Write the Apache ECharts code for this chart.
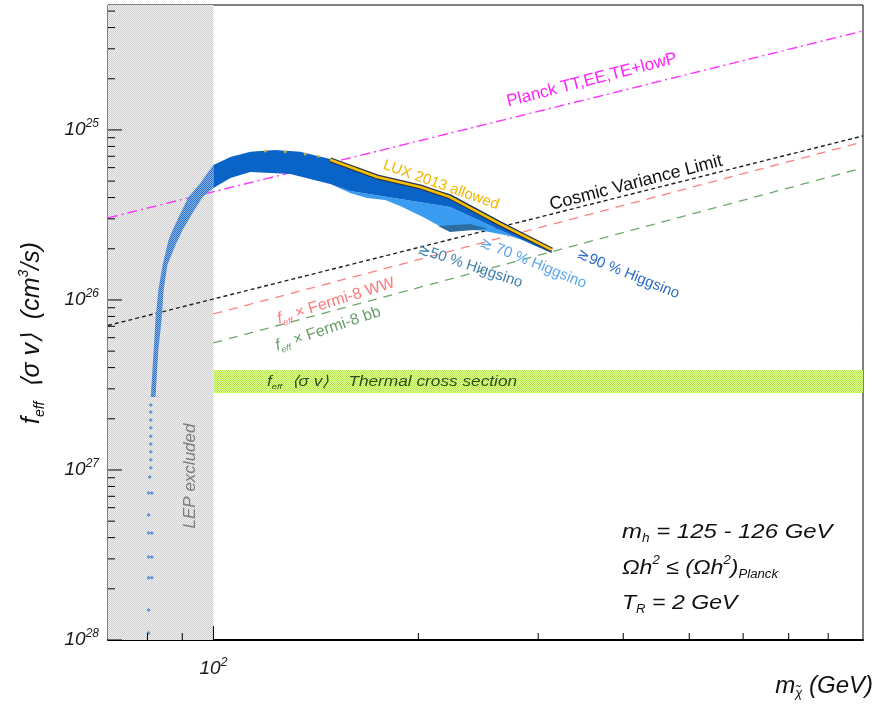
<!DOCTYPE html>
<html>
<head>
<meta charset="utf-8">
<script src="https://cdn.jsdelivr.net/npm/echarts@6/dist/echarts.min.js"></script>
<style>
  html, body { margin: 0; padding: 0; background: #fff; }
  #chart { width: 878px; height: 707px; }
</style>
</head>
<body>
<div id="chart"></div>
<script>
// ---- axes -------------------------------------------------------------
const xRange = [70, 900];                 // neutralino mass, GeV
const yRange = [1e-28, 5.43e-25];         // f_eff <sigma v>, cm^3/s
const xMajorTicks = [100];
const xTickLabels = ['2'];
const xMinorTicks = [80, 90, 200, 300, 400, 500, 600, 700, 800];
const yDecades = [1e-28, 1e-27, 1e-26, 1e-25];
const yTickLabels = ['28', '27', '26', '25'];
const yMinorSteps = [2, 3, 4, 5, 6, 7, 8, 9];

// ---- excluded / reference regions --------------------------------------
const lepExcluded = [70, 100];                    // GeV
const thermalMass = [100, 900];                   // GeV
const thermalRange = [2.84e-27, 3.87e-27];        // cm^3/s

// ---- limit lines [mass, f_eff<sigma v>] --------------------------------
const planckLimit    = [[70, 3.04e-26], [900, 3.82e-25]];
const cosmicVariance = [[70, 7.08e-27], [900, 9.22e-26]];
const fermiWW        = [[100, 8.27e-27], [900, 8.50e-26]];
const fermiBB        = [[100, 5.59e-27], [900, 5.98e-26]];

// ---- scan points: allowed band, edges [mass, f_eff<sigma v>] ------------
const bandUpper = [
  [80.9, 2.69e-27], [81.7, 5.08e-27], [82.2, 7.63e-27], [83.0, 1.15e-26],
  [84.2, 1.61e-26], [85.9, 2.25e-26], [87.1, 2.58e-26], [89.5, 3.25e-26],
  [91.9, 4.03e-26], [95.7, 4.88e-26], [98.0, 5.59e-26], [100, 6.22e-26],
  [105.9, 6.94e-26], [113.3, 7.43e-26], [123.3, 7.63e-26], [134.1, 7.43e-26],
  [148.4, 6.75e-26], [174.0, 5.44e-26], [222.6, 4.20e-26], [263.5, 2.92e-26],
  [314.1, 2.02e-26]
];
const bandLower = [
  [82.2, 2.69e-27], [83.0, 5.08e-27], [83.9, 7.63e-27], [84.5, 1.15e-26],
  [85.6, 1.61e-26], [88.0, 2.11e-26], [90.1, 2.58e-26], [93.2, 3.25e-26],
  [96.4, 4.03e-26], [100, 4.56e-26], [105.9, 5.22e-26], [113.3, 5.66e-26],
  [129.7, 5.51e-26], [148.4, 4.81e-26], [158.8, 4.38e-26], [188.0, 3.93e-26],
  [222.6, 3.52e-26], [263.5, 2.58e-26], [314.1, 1.89e-26]
];
// lower edge of the >~70 % Higgsino spread
const band70Lower = [
  [148.4, 4.81e-26], [158.8, 4.26e-26], [168.2, 3.98e-26], [178.8, 3.87e-26],
  [188.0, 3.57e-26], [203.2, 3.08e-26], [217.4, 2.65e-26], [248.8, 2.55e-26],
  [272.6, 2.38e-26], [301.6, 2.08e-26]
];
// small >~50 % Higgsino patch
const band50 = [[213.8, 2.72e-26], [238.2, 2.80e-26], [253.1, 2.62e-26], [222.6, 2.51e-26]];
// isolated low-mass points
const lowMassPoints = [
  [80.9, 2.41e-27], [80.9, 2.19e-27], [80.9, 1.97e-27], [80.9, 1.77e-27],
  [80.9, 1.58e-27], [80.9, 1.42e-27], [80.9, 1.28e-27], [80.9, 1.15e-27],
  [80.9, 1.03e-27], [80.6, 9.10e-28], [80.3, 7.33e-28], [81.2, 7.33e-28],
  [80.3, 5.44e-28], [80.3, 4.26e-28], [81.2, 4.26e-28], [80.3, 3.08e-28],
  [81.2, 3.08e-28], [80.3, 2.32e-28], [81.2, 2.32e-28], [80.3, 1.50e-28],
  [80.3, 1.10e-28]
];
// LUX 2013 allowed points
const luxLine = [[148.4, 6.67e-26], [174.0, 5.29e-26], [201.3, 4.62e-26],
                 [222.6, 4.03e-26], [263.6, 2.80e-26], [314.1, 1.97e-26]];
const luxDots = [[119.2, 7.52e-26], [127.5, 7.43e-26], [136.4, 7.22e-26], [142.6, 7.03e-26]];

// ---- drawing -----------------------------------------------------------
// tiny cross sections are expressed in units of 1e-28 cm^3/s on the axis
const Y_UNIT = 1e-28;
const toAxis = pts => pts.map(p => [p[0], p[1] / Y_UNIT]);
const F = "'Liberation Sans', Arial, Helvetica, sans-serif";

function checker(c1, c2) {
  const cv = document.createElement('canvas');
  cv.width = 2; cv.height = 2;
  const g = cv.getContext('2d');
  g.fillStyle = c2; g.fillRect(0, 0, 2, 2);
  g.fillStyle = c1; g.fillRect(0, 0, 1, 1); g.fillRect(1, 1, 1, 1);
  return { image: cv, repeat: 'repeat' };
}

function polygonSeries(getPoints, style, z) {
  return {
    type: 'custom', coordinateSystem: 'cartesian2d', silent: true, z: z, clip: true,
    data: [[100, 1]],
    renderItem: function (params, api) {
      const pts = getPoints().map(p => api.coord([p[0], p[1] / Y_UNIT]));
      return { type: 'polygon', shape: { points: pts }, style: style };
    }
  };
}

function lineSeries(pts, color, width, dash, z) {
  return {
    type: 'line', data: toAxis(pts), symbol: 'none', silent: true, z: z,
    lineStyle: { color: color, width: width, type: dash }
  };
}

function isDecade(v, d) { return Math.abs(Math.log10(v) - Math.log10(d)) < 1e-6; }

const supRich = {
  b: { fontSize: 19, fontStyle: 'italic', fontFamily: F, color: '#1a1a1a', lineHeight: 24 },
  s: { fontSize: 12, fontStyle: 'italic', fontFamily: F, color: '#1a1a1a', lineHeight: 12, verticalAlign: 'top' }
};

const option = {
  animation: false,
  grid: { left: 108, right: 15, top: 5, bottom: 67, show: true, borderColor: '#000', borderWidth: 1 },
  xAxis: {
    type: 'log', logBase: 10, min: xRange[0], max: xRange[1],
    axisLine: { show: true, onZero: false, lineStyle: { color: '#000', width: 2 } },
    axisTick: { show: false }, splitLine: { show: false },
    axisLabel: {
      margin: 17, rich: supRich,
      formatter: function (v) {
        const i = xMajorTicks.findIndex(d => isDecade(v, d));
        return i < 0 ? '' : '{b|10}{s|' + xTickLabels[i] + '}';
      }
    }
  },
  yAxis: {
    type: 'log', logBase: 10, min: yRange[0] / Y_UNIT, max: yRange[1] / Y_UNIT,
    axisLine: { show: true, onZero: false, lineStyle: { color: '#000', width: 1 } },
    axisTick: { show: false }, splitLine: { show: false },
    axisLabel: {
      margin: 9, rich: supRich,
      formatter: function (v) {
        const i = yDecades.findIndex(d => isDecade(v * Y_UNIT, d));
        return i < 0 ? '' : '{b|10}{s|' + yTickLabels[i] + '}';
      }
    }
  },
  series: [
    // LEP exclusion
    {
      type: 'custom', coordinateSystem: 'cartesian2d', silent: true, z: 1, clip: true,
      data: [[100, 1]],
      renderItem: function (params, api) {
        const a = api.coord([lepExcluded[0], yRange[1] / Y_UNIT]);
        const b = api.coord([lepExcluded[1], yRange[0] / Y_UNIT]);
        return { type: 'rect', shape: { x: a[0], y: a[1], width: b[0] - a[0], height: b[1] - a[1] },
                 style: { fill: checker('#cfcfcf', '#f1f1f1') } };
      }
    },
    // thermal cross section band
    {
      type: 'custom', coordinateSystem: 'cartesian2d', silent: true, z: 2, clip: true,
      data: [[100, 1]],
      renderItem: function (params, api) {
        const a = api.coord([thermalMass[0], thermalRange[1] / Y_UNIT]);
        const b = api.coord([thermalMass[1], thermalRange[0] / Y_UNIT]);
        return { type: 'rect', shape: { x: a[0], y: a[1], width: b[0] - a[0], height: b[1] - a[1] },
                 style: { fill: checker('#b0ea40', '#e6ffa0') } };
      }
    },
    lineSeries(planckLimit, '#ff33ff', 1.4, [10, 4, 2, 4], 3),
    lineSeries(cosmicVariance, '#222222', 1.4, [4, 3], 3),
    lineSeries(fermiWW, '#ff8080', 1.3, [9, 7], 3),
    lineSeries(fermiBB, '#6ea86e', 1.3, [9, 7], 3),
    // >~70 % Higgsino spread
    polygonSeries(function () {
      const top = bandLower.filter(p => p[0] >= 148.4);
      return top.concat(band70Lower.slice().reverse());
    }, { fill: '#3a9cf0' }, 4),
    polygonSeries(function () { return band50; }, { fill: '#2c6e9e' }, 5),
    // main band, low-mass part (sparser scan)
    polygonSeries(function () {
      return bandUpper.filter(p => p[0] <= 100).concat(bandLower.filter(p => p[0] <= 100).reverse());
    }, { fill: checker('#2a72cc', '#8db3e2') }, 6),
    // main band, m >= 100 GeV
    polygonSeries(function () {
      return bandUpper.filter(p => p[0] >= 100).concat(bandLower.filter(p => p[0] >= 100).reverse());
    }, { fill: '#0a64c8' }, 6),
    {
      type: 'scatter', data: toAxis(lowMassPoints), symbol: 'diamond', symbolSize: 4,
      itemStyle: { color: '#3a80d2' }, silent: true, z: 6
    },
    lineSeries(luxLine, '#2a3550', 5, 'solid', 7),
    lineSeries(luxLine, '#f6c000', 2.6, 'solid', 8),
    {
      type: 'scatter', data: toAxis(luxDots), symbol: 'circle', symbolSize: 3,
      itemStyle: { color: '#e8c020' }, silent: true, z: 8
    },
    // axis ticks (decades and 2..9 subdivisions)
    {
      type: 'custom', coordinateSystem: 'cartesian2d', silent: true, z: 10, clip: false,
      data: [[100, 1]],
      renderItem: function (params, api) {
        const kids = [];
        const yMin = yRange[0] / Y_UNIT, yMax = yRange[1] / Y_UNIT;
        const add = (x1, y1, x2, y2) => kids.push({ type: 'line', shape: { x1, y1, x2, y2 },
                                                    style: { stroke: '#000', lineWidth: 1 } });
        xMajorTicks.forEach(v => { const p = api.coord([v, yMin]); add(p[0], p[1], p[0], p[1] - 14); });
        xMinorTicks.forEach(v => { const p = api.coord([v, yMin]); add(p[0], p[1], p[0], p[1] - 7); });
        yDecades.forEach(d => {
          const p = api.coord([xRange[0], d / Y_UNIT]);
          add(p[0], p[1], p[0] + 14, p[1]);
          yMinorSteps.forEach(k => {
            const v = k * d / Y_UNIT;
            if (v <= yMax) { const q = api.coord([xRange[0], v]); add(q[0], q[1], q[0] + 7, q[1]); }
          });
        });
        return { type: 'group', children: kids };
      }
    }
  ],
  graphic: (function () {
    const deg = a => a * Math.PI / 180;
    const sub = (size, color) => ({ fontSize: size, fontStyle: 'italic', fontFamily: F, fill: color, lineHeight: size, verticalAlign: 'bottom' });
    const sup = (size, color) => ({ fontSize: size, fontStyle: 'italic', fontFamily: F, fill: color, lineHeight: size, verticalAlign: 'top' });
    const base = (size, color, lh) => ({ fontSize: size, fontStyle: 'italic', fontFamily: F, fill: color, lineHeight: lh });
    const plain = (size, color) => ({ fontSize: size, fontFamily: F, fill: color });
    function label(x, y, rot, text, style, extra) {
      return Object.assign({ type: 'text', x: x, y: y, rotation: deg(rot), z: 100, silent: true,
        style: Object.assign({ text: text, align: 'center', verticalAlign: 'middle' }, style) }, extra || {});
    }
    return [
      label(592, 80, 14.5, 'Planck TT,EE,TE+lowP', plain(17, '#ff22ff')),
      label(636, 183, 14.5, 'Cosmic Variance Limit', plain(18, '#111111')),
      label(441, 185, -19.5, 'LUX 2013 allowed', plain(15, '#f2b600')),
      label(470, 266, -18.5, '≳50 % Higgsino', plain(15, '#3f7fae')),
      label(533, 263, -22, '≳ 70 % Higgsino', plain(15, '#5aa6ee')),
      label(628, 274, -22, '≳90 % Higgsino', plain(15, '#2b6cc8')),
      label(336, 301, 17.5, '{f|f}{s|eff}{t| × Fermi-8 WW}', {
        fontSize: 16, fontFamily: F, fill: '#ff7878',
        rich: { f: base(16, '#ff7878', 20), s: sub(9, '#ff7878'), t: Object.assign(plain(16, '#ff7878'), { lineHeight: 20 }) }
      }),
      label(328, 329, 18.5, '{f|f}{s|eff}{t| × Fermi-8 bb}', {
        fontSize: 16, fontFamily: F, fill: '#6a9f6a',
        rich: { f: base(16, '#6a9f6a', 20), s: sub(9, '#6a9f6a'), t: Object.assign(plain(16, '#6a9f6a'), { lineHeight: 20 }) }
      }),
      label(267, 382, 0, '{f|f}{s|eff}{t|  ⟨σ v⟩    Thermal cross section}', {
        align: 'left', fontSize: 15, fontFamily: F, fill: '#2f4f12',
        rich: { f: base(15, '#2f4f12', 18), s: sub(8, '#2f4f12'), t: base(15, '#2f4f12', 18) }
      }, { scaleX: 1.15 }),
      label(190, 476, 90, 'LEP excluded', { fontSize: 17, fontStyle: 'italic', fontFamily: F, fill: '#7c7c7c' }),
      // scan assumptions
      label(622, 532, 0, '{t|m}{s|h}{t| = 125 - 126 GeV}', {
        align: 'left', rich: { t: base(21, '#111', 26), s: sub(12, '#111') }
      }, { scaleX: 1.14 }),
      label(622, 568, 0, '{t|Ωh}{p|2}{t| ≤ (Ωh}{p|2}{t|)}{s|Planck}', {
        align: 'left', rich: { t: base(21, '#111', 26), s: sub(12, '#111'), p: sup(12, '#111') }
      }, { scaleX: 1.1 }),
      label(622, 603, 0, '{t|T}{s|R}{t| = 2 GeV}', {
        align: 'left', rich: { t: base(21, '#111', 26), s: sub(12, '#111') }
      }, { scaleX: 1.1 }),
      // axis titles
      label(32, 333, 90, '{t|f}{s|eff}{t|  ⟨σ v⟩  (cm}{p|3}{t|/s)}', {
        rich: { t: base(25, '#111', 30), s: sub(14, '#111'), p: sup(14, '#111') }
      }),
      label(873, 686, 0, '{t|m}{s|χ̃}{t| (GeV)}', {
        align: 'right', rich: { t: base(24, '#111', 28), s: sub(13, '#111') }
      })
    ];
  })()
};

const chart = echarts.init(document.getElementById('chart'), null, { renderer: 'canvas' });
chart.setOption(option);
</script>
</body>
</html>
